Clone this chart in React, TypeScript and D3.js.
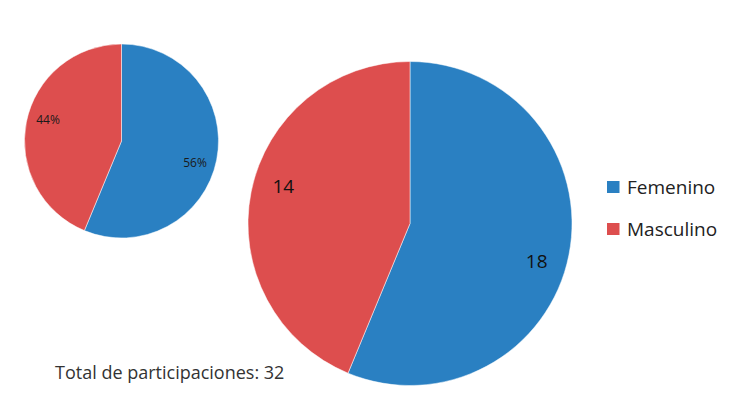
import React from "react";
import * as d3 from "d3";

const categories = ["Femenino", "Masculino"];
const counts = [18, 14];
const colors = ["#2A80C2", "#DD4E4E"];
const totalLabel = "Total de participaciones: 32";

export default function App() {
  const W = 749, H = 395;
  const pie = d3.pie<number>().sort(null).value((d) => d);
  const arcs = pie(counts);
  const total = d3.sum(counts);

  const small = { cx: 121.5, cy: 141, r: 97 };
  const big = { cx: 410, cy: 223.5, r: 162 };

  const arcSmall = d3.arc<d3.PieArcDatum<number>>().innerRadius(0).outerRadius(small.r);
  const arcBig = d3.arc<d3.PieArcDatum<number>>().innerRadius(0).outerRadius(big.r);
  const lblSmall = d3.arc<any>().innerRadius(small.r * 0.79).outerRadius(small.r * 0.79);
  const lblBig = d3.arc<any>().innerRadius(big.r * 0.815).outerRadius(big.r * 0.815);
  const shift = 0.09;
  const shifted = (a: d3.PieArcDatum<number>) => ({ startAngle: a.startAngle + shift, endAngle: a.endAngle + shift });

  const font = "'Open Sans', 'Noto Sans', sans-serif";

  return (
    <svg width={W} height={H} style={{ position: "absolute", left: 0, top: 0, background: "#fff" }} fontFamily={font}>
      <rect width={W} height={H} fill="#fff" />
      <g transform={`translate(${small.cx},${small.cy})`}>
        {arcs.map((a, i) => (
          <path key={i} d={arcSmall(a) || ""} fill={colors[i]} stroke="#fff" strokeWidth={0.5} />
        ))}
        {arcs.map((a, i) => {
          const [x, y] = lblSmall.centroid(shifted(a));
          return (
            <text key={i} x={x} y={y} textAnchor="middle" dominantBaseline="central" fontSize={12} fill="#1a1a1a">
              {`${Math.round((counts[i] / total) * 100)}%`}
            </text>
          );
        })}
      </g>
      <g transform={`translate(${big.cx},${big.cy})`}>
        {arcs.map((a, i) => (
          <path key={i} d={arcBig(a) || ""} fill={colors[i]} stroke="#fff" strokeWidth={0.5} />
        ))}
        {arcs.map((a, i) => {
          const [x, y] = lblBig.centroid(shifted(a));
          return (
            <text key={i} x={x} y={y} textAnchor="middle" dominantBaseline="central" fontSize={19} fill="#111">
              {counts[i]}
            </text>
          );
        })}
      </g>
      {categories.map((c, i) => (
        <g key={c} transform={`translate(607,${187 + i * 42})`}>
          <rect x={0} y={-6} width={12.5} height={12} fill={colors[i]} />
          <text x={20} y={0} dominantBaseline="central" fontSize={19} fill="#222">{c}</text>
        </g>
      ))}
      <text x={55} y={379} fontSize={18} fill="#333">{totalLabel}</text>
    </svg>
  );
}
